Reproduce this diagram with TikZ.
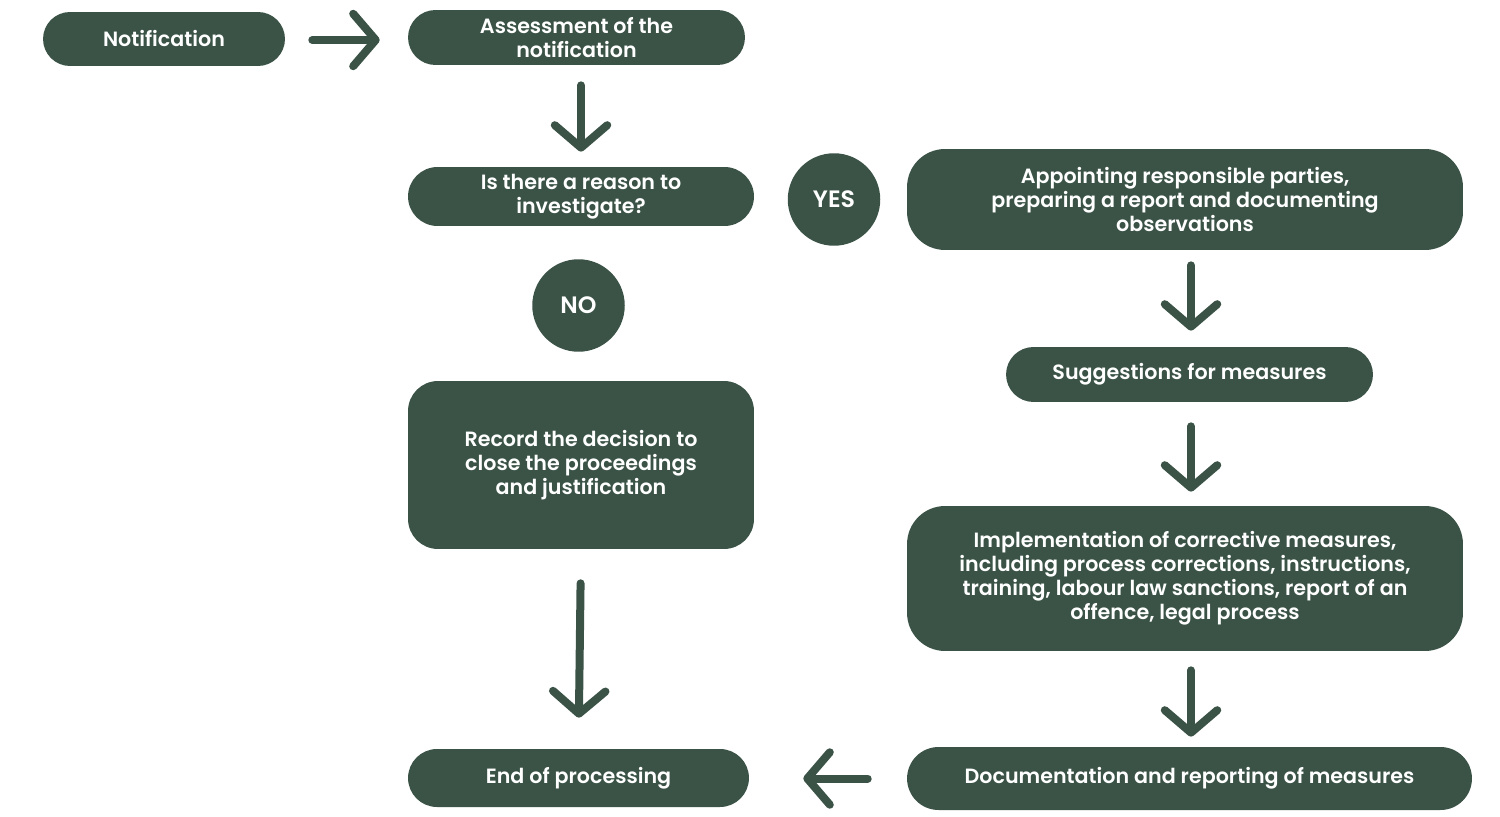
\documentclass[tikz,border=0pt]{standalone}
\usepackage{fontspec}
\setmainfont{Poppins}[UprightFont=* SemiBold, BoldFont=* SemiBold]
\usetikzlibrary{arrows.meta}

\definecolor{boxgreen}{RGB}{58,83,70}
\tikzset{
  box/.style={fill=boxgreen, text=white, align=center, inner sep=0pt,
    font=\fontsize{11.75}{13.7}\selectfont},
  answer/.style={circle, fill=boxgreen, text=white, inner sep=0pt,
    minimum size=1.85cm, font=\fontsize{13.5}{16}\selectfont\bfseries},
  arr/.style={-{Straight Barb[length=0.45cm,width=1.05cm,round]},
    line width=0.16cm, draw=boxgreen, line cap=round},
}

\begin{document}
\begin{tikzpicture}[x=0.02cm,y=-0.02cm]
\useasboundingbox (0,0) rectangle (1500,817);

% left column
\node[box, minimum width=4.84cm, minimum height=1.08cm, rounded corners=0.54cm] (notif) at (164,39) {Notification};
\node[box, minimum width=6.74cm, minimum height=1.1cm, rounded corners=0.55cm] (assess) at (576.5,37.5) {Assessment of the\\notification};
\node[box, minimum width=6.92cm, minimum height=1.18cm, rounded corners=0.59cm] (reason) at (581,196.5) {Is there a reason to\\investigate?};
\node[answer] (yes) at (834,199.5) {YES};
\node[answer] (no) at (578.5,305.5) {NO};
\node[box, minimum width=6.92cm, minimum height=3.36cm, rounded corners=0.6cm] (record) at (581,465) {Record the decision to\\close the proceedings\\and justification};
\node[box, minimum width=6.82cm, minimum height=1.16cm, rounded corners=0.58cm] (finish) at (578.5,778) {End of processing};

% right column
\node[box, minimum width=11.12cm, minimum height=2.02cm, rounded corners=0.76cm] (appoint) at (1185,199.5) {Appointing responsible parties,\\preparing a report and documenting\\observations};
\node[box, minimum width=7.34cm, minimum height=1.1cm, rounded corners=0.55cm] (suggest) at (1189.5,374.5) {Suggestions for measures};
\node[box, minimum width=11.12cm, minimum height=2.9cm, rounded corners=0.76cm] (implement) at (1185,578.5) {Implementation of corrective measures,\\including process corrections, instructions,\\training, labour law sanctions, report of an\\offence, legal process};
\node[box, minimum width=11.3cm, minimum height=1.26cm, rounded corners=0.63cm] (document) at (1189.5,778.5) {Documentation and reporting of measures};

% arrows
\draw[arr, shorten <=0.54cm, shorten >=0.56cm] (notif.east |- 0,40) -- (assess.west |- 0,40);
\draw[arr, shorten <=0.4cm, shorten >=0.3cm] (assess.south -| reason) -- (reason.north);
\foreach \a/\b/\s/\e in {appoint/suggest/0.3cm/0.32cm, suggest/implement/0.48cm/0.28cm, implement/document/0.38cm/0.2cm}{
  \draw[arr, shorten <=\s, shorten >=\e] (\a.south -| 1191,0) -- (\b.north -| 1191,0);
}
\draw[arr, shorten <=0.68cm, shorten >=0.62cm] (record.south) -- (finish.north);
\draw[arr, shorten <=0.78cm, shorten >=1.08cm] (document.west) -- (finish.east |- document.west);
\end{tikzpicture}
\end{document}
